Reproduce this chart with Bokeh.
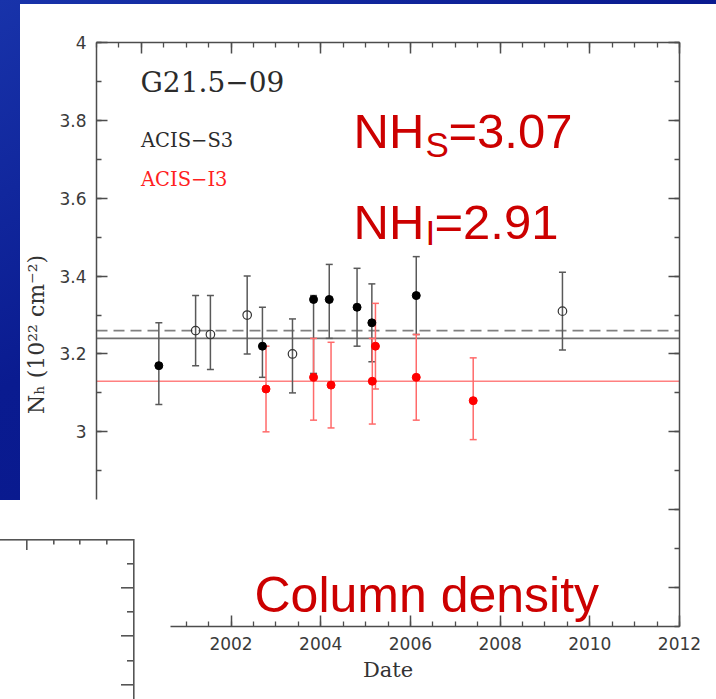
import numpy as np
from bokeh.plotting import figure
from bokeh.models import (ColumnDataSource, Whisker, TeeHead, Span, Label, LinearAxis,
                          SingleIntervalTicker, CustomJSTickFormatter, Range1d)
from bokeh.embed import file_html
from bokeh.resources import INLINE

# ---------------- data ----------------
# ACIS-S3 (black)
s3_date = [2000.39, 2001.21, 2001.54, 2002.36, 2002.70, 2003.37, 2003.84, 2004.19, 2004.81, 2005.14, 2006.13, 2009.39]
s3_nh   = [3.17, 3.26, 3.25, 3.30, 3.22, 3.20, 3.34, 3.34, 3.32, 3.28, 3.35, 3.31]
s3_lo   = [3.07, 3.17, 3.16, 3.20, 3.14, 3.10, 3.15, 3.24, 3.22, 3.18, 3.25, 3.21]
s3_hi   = [3.28, 3.35, 3.35, 3.40, 3.32, 3.29, 3.35, 3.43, 3.42, 3.38, 3.45, 3.41]
s3_open = [False, True, True, True, False, True, False, False, False, False, False, True]

# ACIS-I3 (red)
i3_date = [2002.78, 2003.84, 2004.23, 2005.15, 2005.22, 2006.13, 2007.40]
i3_nh   = [3.11, 3.14, 3.12, 3.13, 3.22, 3.14, 3.08]
i3_lo   = [3.00, 3.03, 3.01, 3.02, 3.11, 3.03, 2.98]
i3_hi   = [3.22, 3.24, 3.23, 3.24, 3.33, 3.25, 3.19]

# mean levels
s3_mean = 3.24
s3_mean_alt = 3.26
i3_mean = 3.13

x_start, x_end = 1999, 2012
y_start, y_end = 2.5, 4.0

# ---------------- figure ----------------
W, H = 716, 699
L_, R_, T_, B_ = 96, 37, 42, 73

p = figure(width=W, height=H, x_range=Range1d(x_start, x_end), y_range=Range1d(y_start, y_end),
           output_backend="svg", toolbar_location=None,
           x_axis_location=None, y_axis_location=None,
           min_border_left=L_, min_border_right=R_, min_border_top=T_, min_border_bottom=B_,
           background_fill_color=None, border_fill_color=None, outline_line_color=None)
p.grid.visible = False

fw = W - L_ - R_
fh = H - T_ - B_
def px2x(px):
    return x_start + (px - L_) / fw * (x_end - x_start)
def py2y(py):
    return y_end - (py - T_) / fh * (y_end - y_start)

AX = "#4d4d4d"
xt = SingleIntervalTicker(interval=2, num_minor_ticks=4)
yt = SingleIntervalTicker(interval=0.2, num_minor_ticks=2)
blank = CustomJSTickFormatter(code="return '';")
yfmt = CustomJSTickFormatter(code="return tick.toFixed(1).replace(/\\.0$/, '');")

def style(ax):
    ax.axis_line_color = AX
    ax.axis_line_width = 1.5
    ax.major_tick_line_color = AX
    ax.minor_tick_line_color = AX
    ax.major_tick_line_width = 1.5
    ax.minor_tick_line_width = 1.3
    ax.major_tick_in = 11
    ax.major_tick_out = 0
    ax.minor_tick_in = 5
    ax.minor_tick_out = 0
    ax.major_label_text_font = "DejaVu Sans"
    ax.major_label_text_font_size = "17px"
    ax.major_label_text_color = "#3a3a3a"
    ax.major_label_standoff = 10
    ax.axis_label_text_font = "DejaVu Serif"
    ax.axis_label_text_font_style = "normal"
    ax.axis_label_text_color = "#333333"
    return ax

left = style(LinearAxis(ticker=yt, formatter=yfmt, bounds=(2.825, 4.0)))
left.axis_label = "N\u2095 (10\u00b2\u00b2 cm\u207b\u00b2)"
left.axis_label_text_font_size = "22px"
left.axis_label_standoff = 7
right = style(LinearAxis(ticker=yt, formatter=blank))
bottom = style(LinearAxis(ticker=xt, bounds=(2000.65, 2012)))
bottom.axis_label = "Date"
bottom.axis_label_text_font_size = "21px"
bottom.axis_label_standoff = 5
top = style(LinearAxis(ticker=xt, formatter=blank))
right.major_label_standoff = 0
top.major_label_standoff = 0
p.add_layout(left, "left")
p.add_layout(right, "right")
p.add_layout(bottom, "below")
p.add_layout(top, "above")

# ---------------- mean lines ----------------
p.add_layout(Span(location=s3_mean, dimension="width", line_color="#707070", line_width=1.6, level="underlay"))
p.add_layout(Span(location=s3_mean_alt, dimension="width", line_color="#808080", line_width=1.6,
                  line_dash="11 6", level="underlay"))
p.add_layout(Span(location=i3_mean, dimension="width", line_color="#ff8080", line_width=1.6, level="underlay"))

# ---------------- error bars ----------------
src_s3 = ColumnDataSource(dict(x=s3_date, y=s3_nh, lo=s3_lo, hi=s3_hi, op=s3_open))
src_i3 = ColumnDataSource(dict(x=i3_date, y=i3_nh, lo=i3_lo, hi=i3_hi))

for src, col in [(src_s3, "#595959"), (src_i3, "#ff6a6a")]:
    p.add_layout(Whisker(source=src, base="x", upper="hi", lower="lo", dimension="height",
                         line_color=col, line_width=1.5, level="underlay",
                         upper_head=TeeHead(size=7, line_color=col, line_width=1.5),
                         lower_head=TeeHead(size=7, line_color=col, line_width=1.5)))

# ---------------- points ----------------
fill_idx = [i for i, o in enumerate(s3_open) if not o]
open_idx = [i for i, o in enumerate(s3_open) if o]
p.scatter([s3_date[i] for i in fill_idx], [s3_nh[i] for i in fill_idx], size=8,
          fill_color="#000000", line_color="#000000")
p.scatter([s3_date[i] for i in open_idx], [s3_nh[i] for i in open_idx], size=8.5,
          fill_color=None, line_color="#333333", line_width=1.2)
p.scatter(i3_date, i3_nh, size=8, fill_color="#ff0000", line_color="#ff0000")

# ---------------- texts ----------------
def lab(text, px, py, font, size, color, angle=0.0, align="left"):
    p.add_layout(Label(x=px2x(px), y=py2y(py), text=text, text_font=font,
                       text_font_size=f"{size}px", text_color=color, angle=angle,
                       text_align=align, text_baseline="alphabetic"))

SERIF = "DejaVu Serif"
lab("G21.5\u221209", 140, 82, SERIF, 28, "#2b2b2b")
lab("ACIS\u2212S3", 140.5, 140, SERIF, 19.5, "#2b2b2b")
lab("ACIS\u2212I3", 140.5, 179, SERIF, 19.5, "#ff2020")

RED = "#cc0000"
SANS = "Liberation Sans"
lab("NH", 353, 130, SANS, 49, RED)
lab("S", 425, 143.5, SANS, 35, RED)
lab("=3.07", 448, 130, SANS, 49, RED)
lab("NH", 353, 221, SANS, 49, RED)
lab("I", 425, 232, SANS, 35, RED)
lab("=2.91", 434, 221, SANS, 49, RED)
lab("Column density", 254, 594, SANS, 50, RED)

# ---------------- slide background (decorative, CSS) ----------------
def strip(x, y, w, h, c="#555555"):
    return f"linear-gradient({c},{c}) {x}px {y}px / {w}px {h}px no-repeat"

layers = [strip(0, 538.5, 134, 1.6), strip(132.5, 538.5, 1.6, 161)]
for tx, ln in [(26.7, 11), (53.3, 5.5), (80, 5.5), (106.7, 5.5)]:
    layers.append(strip(tx - 0.8, 539, 1.6, ln))
for ty, ln in [(563.3, 6), (587.7, 12), (612, 6), (636, 12), (660.3, 6), (684.7, 12)]:
    layers.append(strip(133 - ln, ty - 0.8, ln, 1.6))
layers.append(strip(0, 500, 170, 199, "#ffffff"))
layers.append(strip(20, 4, 696, 695, "#ffffff"))
layers.append("linear-gradient(150deg, #1833aa 0%, #0a1b90 35%, #06158a 100%)")
p.styles = {"background": ", ".join(layers)}

open("out.html", "w").write(file_html(p, INLINE))
